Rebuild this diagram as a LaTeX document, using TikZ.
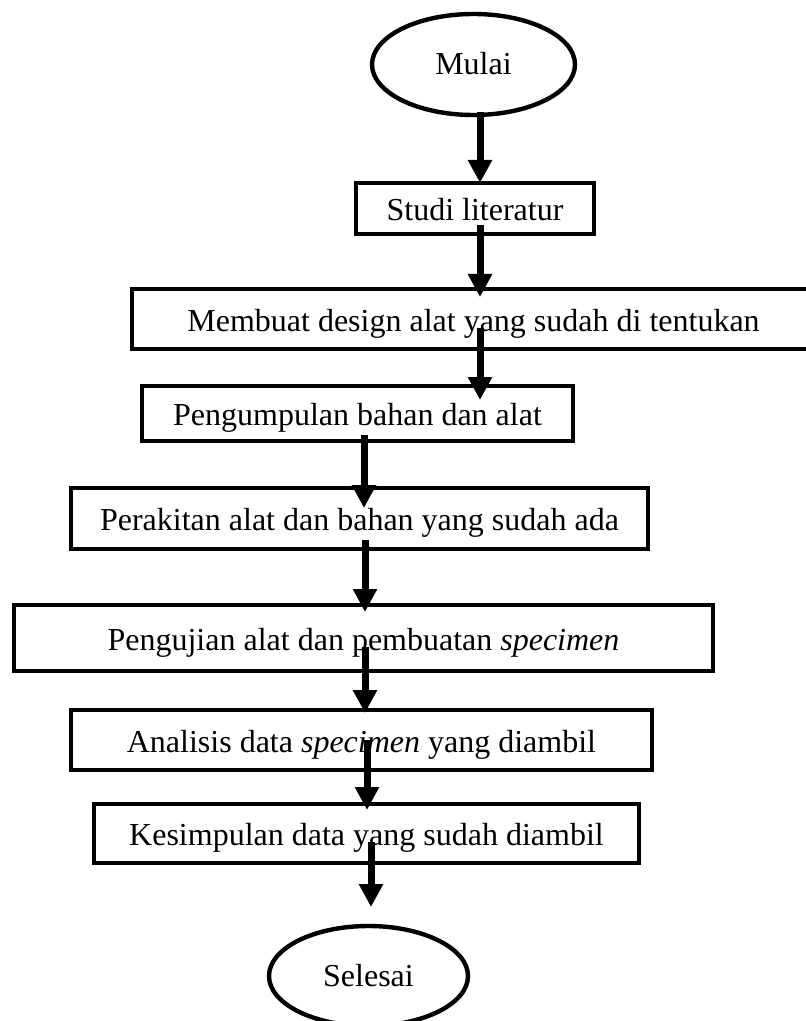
\documentclass[tikz,border=0pt]{standalone}
\usepackage{fontspec}
\setmainfont{Liberation Serif}
\usetikzlibrary{arrows.meta, calc, shapes.geometric}
\tikzset{
	box/.style={draw, rectangle, line width=2pt, inner sep=0pt, outer sep=0pt,
		text height=12pt, text depth=0pt, font=\fontsize{16}{19}\selectfont},
	terminal/.style={draw, ellipse, line width=2.2pt, inner sep=0pt, outer sep=0pt,
		text height=10.5pt, text depth=0pt, font=\fontsize{16}{19}\selectfont},
	flow/.style={line width=3.5pt, -{Triangle[width=11.5pt, length=11.5pt]}}
}

\begin{document}
\begin{tikzpicture}[x=0.5pt, y=-0.5pt]
	\useasboundingbox (0,0) rectangle (806,1021);
	
	\node[terminal, minimum width=101.5pt, minimum height=50.5pt] (mul) at (473.5,64.5) {Mulai};
	
	\node[box, minimum width=119pt, minimum height=25.6pt] (stu) at (475,208.5) {Studi literatur};
	\node[box, minimum width=341.5pt, minimum height=30pt] (mem) at (473.5,319) {Membuat design alat yang sudah di tentukan};
	\node[box, minimum width=215.5pt, minimum height=27.5pt] (pen) at (357.5,413.5) {Pengumpulan bahan dan alat};
	\node[box, minimum width=288.5pt, minimum height=30.5pt] (per) at (359.5,518.5) {Perakitan alat dan bahan yang sudah ada};
	\node[box, minimum width=349.5pt, minimum height=33pt] (uji) at (363.5,638) {Pengujian alat dan pembuatan \textit{specimen}};
	\node[box, minimum width=290.5pt, minimum height=30pt] (ana) at (361.5,740) {Analisis data \textit{specimen} yang diambil};
	\node[box, minimum width=272.5pt, minimum height=29.5pt] (kes) at (366.5,833.5) {Kesimpulan data yang sudah diambil};
	
	\node[terminal, minimum width=99.5pt, minimum height=50pt] (sel) at (368.5,976) {Selesai};
	
	% arrows start inside the upper shape
	\draw[flow] ($(mul.south)+(6.5,-3)$) -- ($(stu.north)+(5,0)$);
	\draw[flow] ($(stu.south)+(5,-9)$) -- ($(mem.north)+(6.5,8)$);
	\draw[flow] ($(mem.south)+(6.5,-21)$) -- ($(pen.north)+(122.5,14)$);
	\draw[flow] ($(pen.south)+(6.5,-6)$) -- ($(per.north)+(4.5,20)$);
	\draw[flow] ($(per.south)+(5.5,-9)$) -- ($(uji.north)+(1.5,7)$);
	\draw[flow] ($(uji.south)+(1.5,-24)$) -- ($(ana.north)+(3.5,3)$);
	\draw[flow] ($(ana.south)+(5.5,-30)$) -- ($(kes.north)+(0.5,6)$);
	\draw[flow] ($(kes.south)+(4.5,-21)$) -- ($(sel.north)+(2.5,-19)$);
\end{tikzpicture}
\end{document}
